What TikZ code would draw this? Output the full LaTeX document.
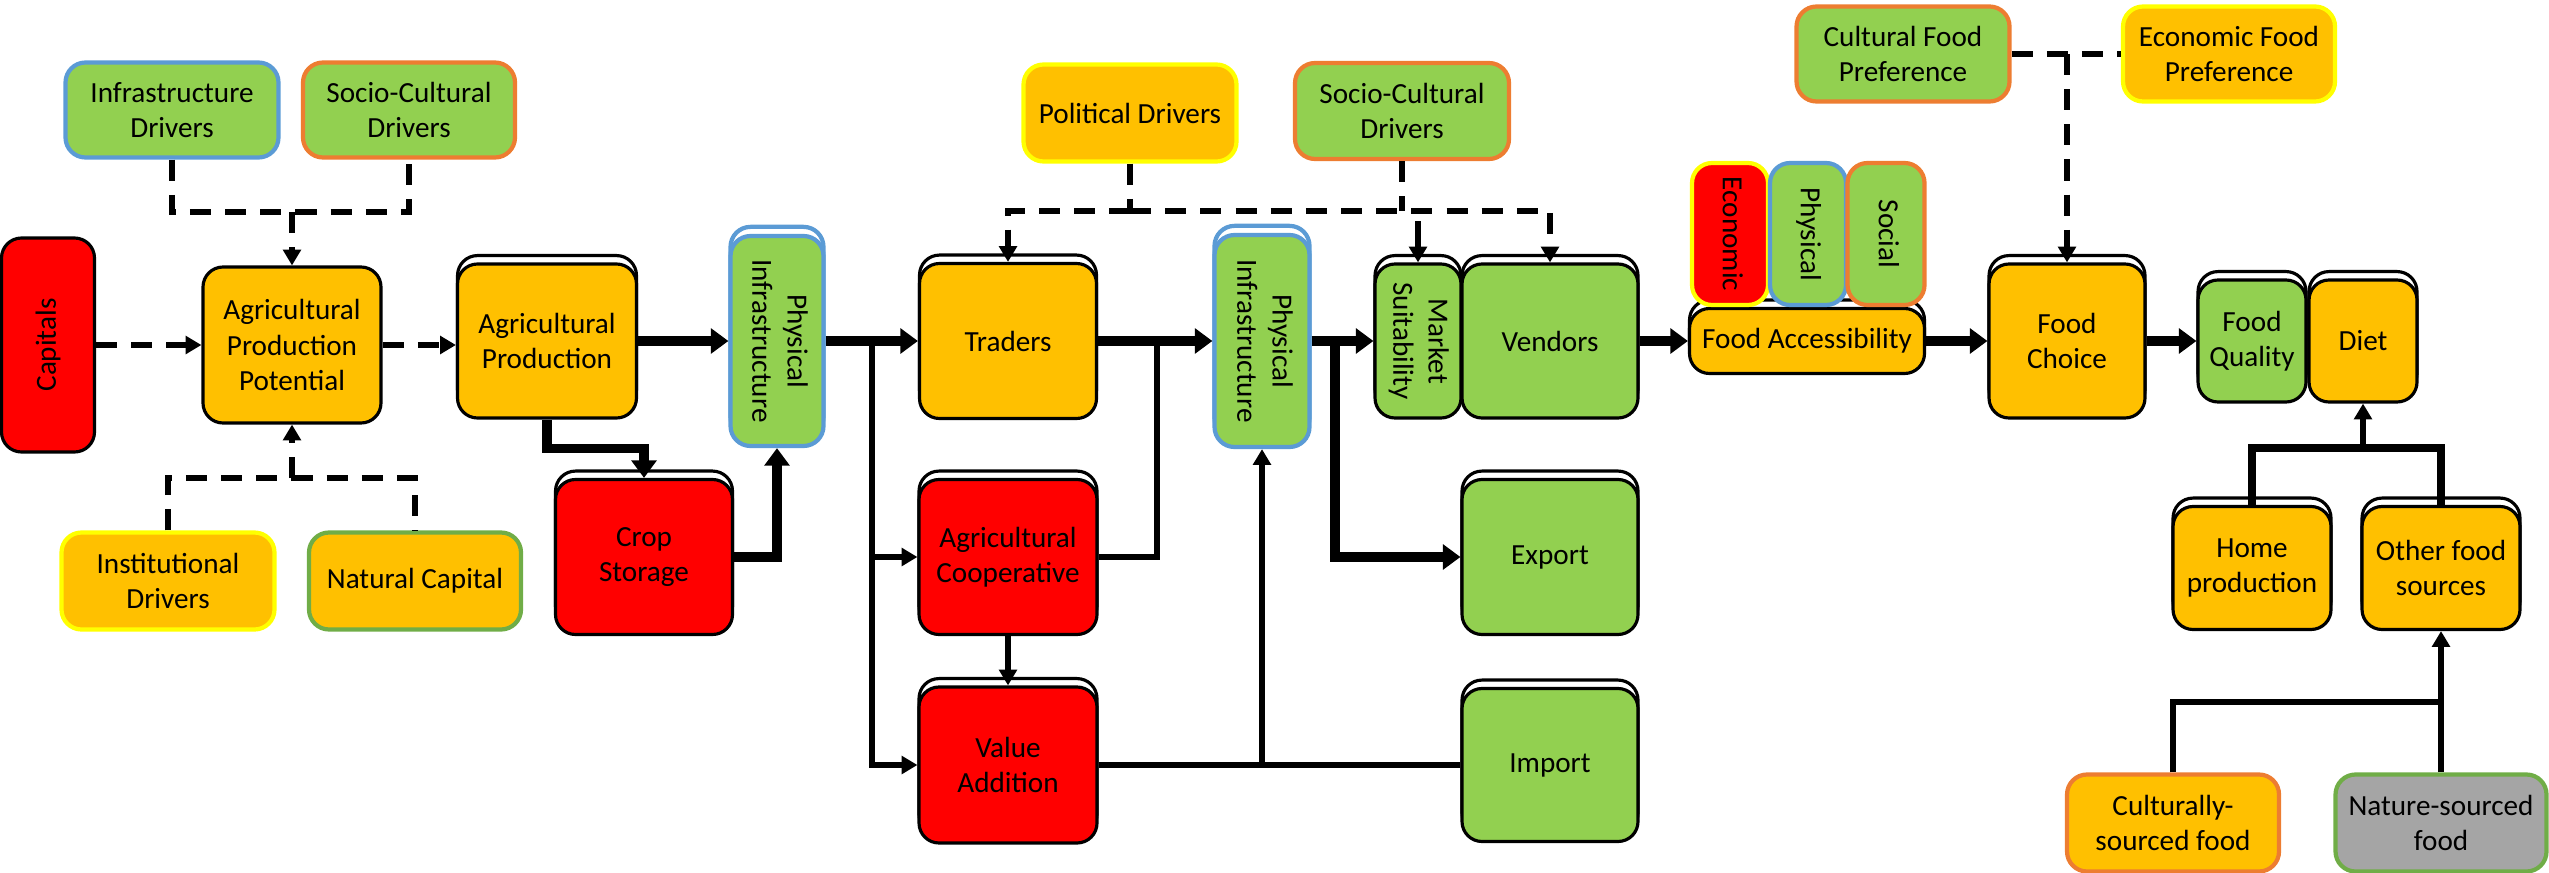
\documentclass[tikz,border=0pt]{standalone}
\usepackage{fontspec}
\setmainfont{Carlito}
\usepackage{graphicx}
\usetikzlibrary{arrows.meta,shadows}

\definecolor{forange}{HTML}{FFC000}
\definecolor{fgreen}{HTML}{92D050}
\definecolor{fred}{HTML}{FF0000}
\definecolor{fgray}{HTML}{A5A5A5}
\definecolor{lblue}{HTML}{5B9BD5}
\definecolor{lorange}{HTML}{ED7D31}
\definecolor{lyellow}{HTML}{FFFF00}
\definecolor{lgreen}{HTML}{70AD47}

\newcommand{\vlab}[1]{\rotatebox{-90}{\begin{tabular}{@{}c@{}}#1\end{tabular}}}

\begin{document}
\begin{tikzpicture}[x=0.01cm, y=-0.01cm, font=\fontsize{8.3}{10}\selectfont,
    box/.style ={rectangle, rounded corners=2mm, align=center, inner sep=1pt, draw=black, line width=0.9pt},
    rim/.style ={draw=#1, line width=1.2pt},
    sz/.style 2 args={minimum width=#1*0.01cm, minimum height=#2*0.01cm},
    stk/.style ={general shadow={draw=black, fill=white, line width=0.9pt, shadow yshift=2.4pt}},
    stkb/.style ={general shadow={draw=lblue, fill=white, line width=1.2pt, shadow yshift=2.6pt}},
    arr/.style ={line width=2.6pt, -{Triangle[length=5pt,width=7pt]}},
    mline/.style ={line width=2.2pt},
    tline/.style ={line width=1.6pt},
    tarr/.style ={line width=1.6pt, -{Triangle[length=4.5pt,width=5pt]}},
    dline/.style ={line width=1.9pt, dash pattern=on 6pt off 4pt},
    darr/.style ={dline, -{Triangle[length=4.5pt,width=5pt]}}]
   \useasboundingbox (0,0) rectangle (2549,873);

   \node[box, rim=lblue, fill=fgreen, sz={213}{95}] (infd) at (172,110) {Infrastructure\\Drivers};
   \node[box, rim=lorange, fill=fgreen, sz={212}{95}] (socd) at (409,110) {Socio-Cultural\\Drivers};
   \node[box, fill=fred, sz={93}{214}] (cap) at (48,345) {\rotatebox{90}{Capitals}};
   \node[box, fill=forange, sz={178}{156}] (app) at (292,345) {Agricultural\\Production\\Potential};
   \node[box, rim=lyellow, fill=forange, sz={213}{97}] (instd) at (168,581) {Institutional\\Drivers};
   \node[box, rim=lgreen, fill=forange, sz={212}{97}] (natc) at (415,581) {Natural Capital};

   \node[box, stk, fill=forange, sz={179}{154}] (agp) at (547,341) {Agricultural\\Production};
   \node[box, stk, fill=fred, sz={177}{155}] (crop) at (644,557) {Crop\\Storage};
   \node[box, stkb, rim=lblue, fill=fgreen, sz={93}{210}] (phy1) at (777,341) {\vlab{Physical\\Infrastructure}};
   \node[box, stk, fill=forange, sz={177}{155}] (trd) at (1008,341) {Traders};
   \node[box, rim=lyellow, fill=forange, sz={213}{97}] (pold) at (1130,113) {Political Drivers};
   \node[box, stk, fill=fred, sz={178}{155}] (coop) at (1008,557) {Agricultural\\Cooperative};
   \node[box, stk, fill=fred, sz={178}{156}] (vadd) at (1008,765) {Value\\Addition};

   \node[box, stkb, rim=lblue, fill=fgreen, sz={95}{212}] (phy2) at (1262,341) {\vlab{Physical\\Infrastructure}};
   \node[box, rim=lorange, fill=fgreen, sz={214}{96}] (socd2) at (1402,111) {Socio-Cultural\\Drivers};
   \node[box, stk, fill=fgreen, sz={86}{154}] (mkt) at (1418,341) {\vlab{Market\\Suitability}};
   \node[box, stk, fill=fgreen, sz={176}{154}] (vend) at (1550,341) {Vendors};
   \node[box, stk, fill=fgreen, sz={176}{155}] (expt) at (1550,557) {Export};
   \node[box, stk, fill=fgreen, sz={176}{153}] (impt) at (1550,765) {Import};

   \node[box, stk, fill=forange, sz={235}{65}] (facc) at (1807,341) {Food Accessibility};
   \node[box, rim=lyellow, fill=fred, sz={76}{142}] (econ) at (1730,234) {\vlab{Economic}};
   \node[box, rim=lblue, fill=fgreen, sz={76}{142}] (phys) at (1808,234) {\vlab{Physical}};
   \node[box, rim=lorange, fill=fgreen, sz={77}{142}] (soc) at (1886,234) {\vlab{Social}};

   \node[box, rim=lorange, fill=fgreen, sz={213}{95}] (cfp) at (1903,54) {Cultural Food\\Preference};
   \node[box, rim=lyellow, fill=forange, sz={212}{95}] (efp) at (2229,54) {Economic Food\\Preference};
   \node[box, stk, fill=forange, sz={156}{154}] (fch) at (2067,341) {Food\\Choice};
   \node[box, stk, fill=fgreen, sz={108}{122}] (fq) at (2252,341) {Food\\Quality};
   \node[box, stk, fill=forange, sz={108}{122}] (diet) at (2363,341) {Diet};
   \node[box, stk, fill=forange, sz={158}{123}] (home) at (2252,568) {Home\\production};
   \node[box, stk, fill=forange, sz={158}{123}] (other) at (2441,568) {Other food\\sources};
   \node[box, rim=lorange, fill=forange, sz={212}{97}] (cult) at (2173,823) {Culturally-\\sourced food};
   \node[box, rim=lgreen, fill=fgray, sz={211}{97}] (natf) at (2441,823) {Nature-sourced\\food};

   % drivers of production potential
   \coordinate (j1) at (292,212);
   \draw[dline] (infd.south) |- (j1) -| (socd.south);
   \draw[darr] (j1) -- (app.north);
   \coordinate (j2) at (292,478);
   \draw[dline] (instd.north) |- (j2) -| (natc.north);
   \draw[darr] (j2) -- (app.south);
   \draw[darr] (cap) -- (app);
   \draw[darr] (app.east) -- (app.east -| agp.west);

   % production and storage
   \draw[arr] (agp) -- (phy1);
   \draw[arr] (agp.south) -- ++(0,29) -| (crop.north);
   \draw[arr] (crop.east) -| (phy1.south);
   \draw[arr] (phy1) -- (trd);
   \coordinate (t1) at (872,341);
   \draw[tarr] (t1) |- (coop.west);
   \draw[tarr] (t1) |- (vadd.west);
   \draw[arr] (trd) -- (phy2);
   \coordinate (t2) at (1157,341);
   \draw[tline] (coop.east) -| (t2);
   \draw[tarr] (coop) -- (vadd);
   \draw[tline] (vadd) -- (impt);
   \coordinate (t3) at (1262,765);
   \draw[tarr] (t3) -- (phy2.south);
   \draw[arr] (phy2) -- (mkt);
   \coordinate (t4) at (1335,341);
   \draw[arr] (t4) |- (expt.west);

   % markets
   \coordinate (j3) at (1130,211);
   \draw[dline] (pold.south) -- (j3);
   \draw[darr] (j3) -| (trd.north);
   \draw[darr] (j3) -| (vend.north);
   \draw[dline] (socd2.south) -- (socd2.south |- j3);
   \coordinate (m0) at (1418,221);
   \draw[tarr] (m0) -- (mkt.north);

   % access, choice and diet
   \draw[arr] (vend) -- (facc);
   \draw[arr] (facc) -- (fch);
   \draw[arr] (fch) -- (fq);
   \coordinate (j4) at (2067,54);
   \draw[dline] (cfp) -- (efp);
   \draw[darr] (j4) -- (fch.north);
   \coordinate (d1) at (2363,448);
   \draw[mline] (home.north) |- (d1) -| (other.north);
   \draw[tarr] (d1) -- (diet.south);
   \coordinate (o1) at (2441,702);
   \draw[tline] (cult.north) |- (o1);
   \draw[tarr] (natf.north) -- (other.south);
 \end{tikzpicture}
\end{document}
